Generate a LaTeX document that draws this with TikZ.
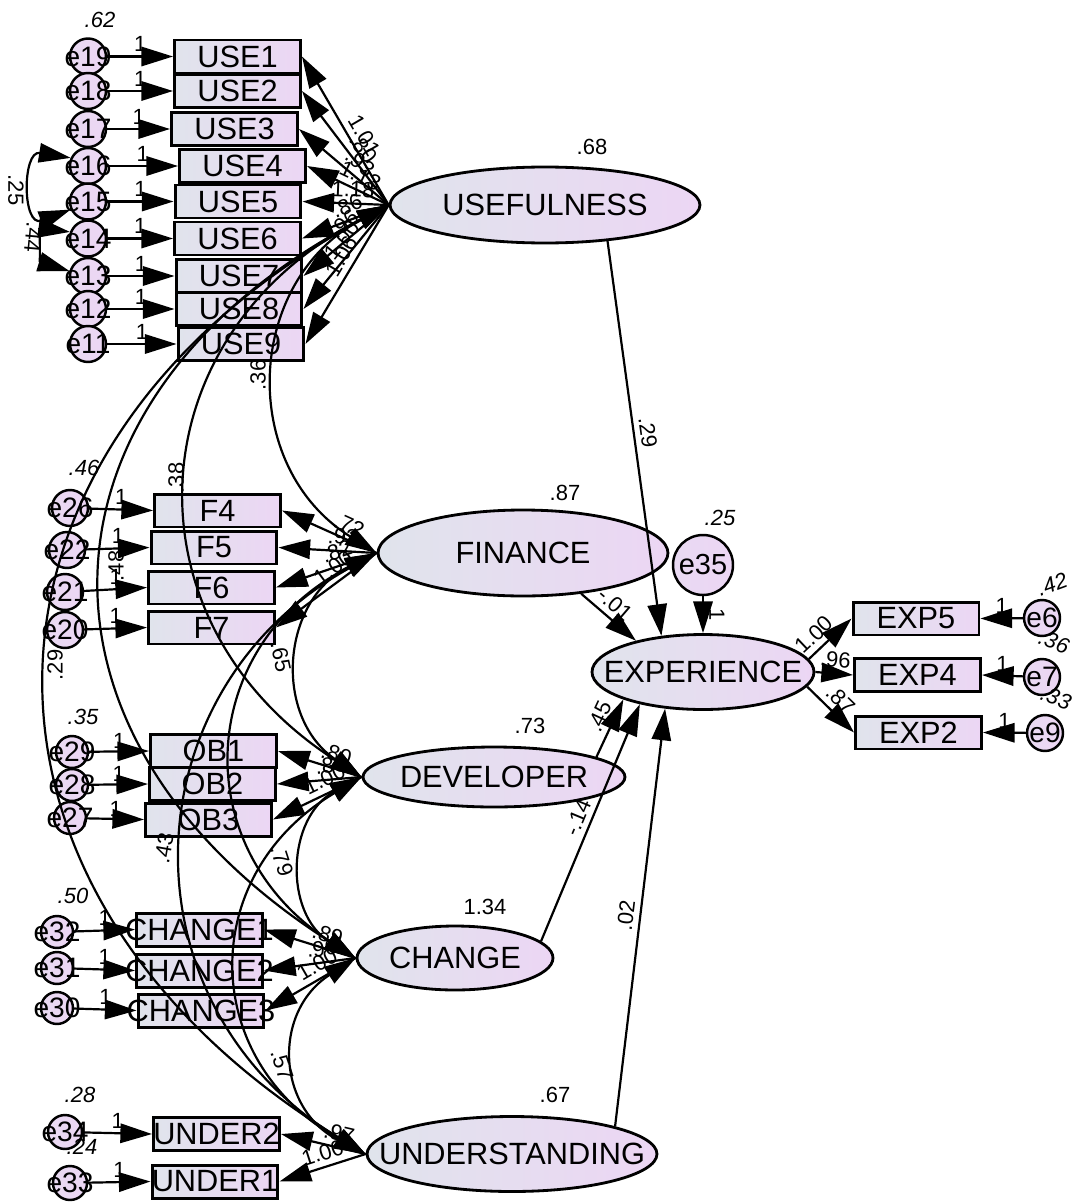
\documentclass[tikz,border=0pt]{standalone}
\usepackage{fontspec}
\setmainfont{Liberation Sans}
\usetikzlibrary{shapes.geometric,arrows.meta}
\definecolor{gL}{RGB}{224,228,236}
\definecolor{gR}{RGB}{236,214,244}
\newcommand{\zw}[1]{\makebox[0pt]{#1}}
\begin{document}
\begin{tikzpicture}[x=0.02cm,y=-0.02cm,
  big/.style={font=\fontsize{17.5}{19}\selectfont},
  num/.style={font=\fontsize{12.5}{14}\selectfont,inner sep=1pt},
  inum/.style={font=\fontsize{12.5}{14}\selectfont\itshape,inner sep=1pt},
  obs/.style={draw,line width=1.7pt,rectangle,minimum width=2.52cm,minimum height=0.66cm,inner sep=0pt,left color=gL,right color=gR,big},
  lat/.style={draw,line width=1.6pt,ellipse,inner sep=0pt,left color=gL,right color=gR,big},
  err/.style={draw,line width=1.4pt,circle,minimum size=0.72cm,inner sep=0pt,left color=gR!75!gL,right color=gR,font=\fontsize{16}{18}\selectfont},
  arr/.style={line width=1.25pt,-{Triangle[length=18pt,width=11pt]}},
  cov/.style={line width=1.25pt,{Triangle[length=18pt,width=11pt]}-{Triangle[length=18pt,width=11pt]}},
  lab/.style={num,sloped,above=2pt}
]
\useasboundingbox (0,0) rectangle (1073,1203);

% latent variables
\node[lat,minimum width=6.2cm,minimum height=1.52cm] (USEF) at (545,205) {\zw{USEFULNESS}};
\node[lat,minimum width=5.8cm,minimum height=1.72cm] (FIN) at (523,553) {\zw{FINANCE}};
\node[lat,minimum width=5.24cm,minimum height=1.2cm] (DEV) at (494,777) {\zw{DEVELOPER}};
\node[lat,minimum width=3.92cm,minimum height=1.28cm] (CHG) at (455,958) {\zw{CHANGE}};
\node[lat,minimum width=5.8cm,minimum height=1.5cm] (UND) at (512,1154) {\zw{UNDERSTANDING}};
\node[lat,minimum width=4.44cm,minimum height=1.5cm] (EXPR) at (703,672) {\zw{EXPERIENCE}};
\node[err,minimum size=1.2cm,font=\fontsize{16.5}{18}\selectfont] (e35) at (703,565) {\zw{e35}};

% USE indicators
\foreach \i/\yy/\xx/\ee in {1/56.5/237.5/19, 2/91/237.5/18, 3/129/234.5/17, 4/166/242.5/16, 5/201.5/238/15, 6/238.5/237.5/14, 7/276/239/13, 8/309/239/12, 9/344/241/11}{
  \node[obs] (USE\i) at (\xx,\yy) {\zw{USE\i}};
  \node[err] (e\ee) at (88,\yy) {\zw{e\ee}};
}
% F indicators
\foreach \n/\xx/\yy/\ee/\ex/\ey in {4/217.5/510.5/26/70/508, 5/214/547.5/22/67/550, 6/211.5/587.5/21/65/592, 7/211.5/627.5/20/65/630}{
  \node[obs] (F\n) at (\xx,\yy) {\zw{F\n}};
  \node[err] (e\ee) at (\ex,\ey) {\zw{e\ee}};
}
% OB indicators
\foreach \n/\xx/\yy/\ee/\ex/\ey in {1/213.5/751/29/72/752, 2/212.5/784/28/72/785, 3/208.5/819.5/27/70/818}{
  \node[obs] (OB\n) at (\xx,\yy) {\zw{OB\n}};
  \node[err,minimum size=0.64cm] (e\ee) at (\ex,\ey) {\zw{e\ee}};
}
% CHANGE indicators
\foreach \n/\xx/\yy/\ee/\ex/\ey in {1/199.5/929.5/32/57/932, 2/199.5/970.5/31/57/968, 3/201/1010.5/30/57/1008}{
  \node[obs] (CHANGE\n) at (\xx,\yy) {\zw{CHANGE\n}};
  \node[err,minimum size=0.64cm] (e\ee) at (\ex,\ey) {\zw{e\ee}};
}
% UNDER indicators
\node[obs] (UNDER2) at (216.5,1134) {\zw{UNDER2}};
\node[obs] (UNDER1) at (215,1181.5) {\zw{UNDER1}};
\node[err,minimum size=0.68cm] (e34) at (65,1132) {\zw{e34}};
\node[err,minimum size=0.68cm] (e33) at (70,1183) {\zw{e33}};
% EXP indicators
\node[obs] (EXP5) at (916,618.5) {\zw{EXP5}};
\node[obs] (EXP4) at (917.5,675) {\zw{EXP4}};
\node[obs] (EXP2) at (918.5,732.5) {\zw{EXP2}};
\node[err] (e6) at (1042,618) {\zw{e6}};
\node[err] (e7) at (1042,677) {\zw{e7}};
\node[err] (e9) at (1045,733) {\zw{e9}};

% error paths
\foreach \i/\ee in {1/19,2/18,3/17,4/16,5/15,6/14,7/13,8/12,9/11}{
  \draw[arr] (e\ee) -- (USE\i.west) node[num,midway,above=1pt]{1};
}
\foreach \n/\ee in {4/26,5/22,6/21,7/20}{
  \draw[arr] (e\ee) -- (F\n.west) node[num,midway,above=1pt]{1};
}
\foreach \n/\ee in {1/29,2/28,3/27}{
  \draw[arr] (e\ee) -- (OB\n.west) node[num,midway,above=0pt]{1};
}
\foreach \n/\ee in {1/32,2/31,3/30}{
  \draw[arr] (e\ee) -- (CHANGE\n.west) node[num,midway,above=1pt]{1};
}
\draw[arr] (e34) -- (UNDER2.west) node[num,midway,above=1pt]{1};
\draw[arr] (e33) -- (UNDER1.west) node[num,midway,above=1pt]{1};
\draw[arr] (e6) -- (EXP5.east) node[num,midway,above=1pt]{1};
\draw[arr] (e7) -- (EXP4.east) node[num,midway,above=1pt]{1};
\draw[arr] (e9) -- (EXP2.east) node[num,midway,above=1pt]{1};

% loadings
\foreach \i/\v in {1/1.01,2/.80,3/.93,4/1.13,5/1.18,6/.86,7/.96,8/1.00,9/1.06}{
  \draw[arr] (USEF.west) -- (USE\i.east) node[lab,pos=0.42]{\v};
}
\foreach \n/\v in {4/.72,5/.93,6/.82,7/1.00}{
  \draw[arr] (FIN.west) -- (F\n.east) node[lab,pos=0.35]{\v};
}
\foreach \n/\v in {1/.80,2/.86,3/1.00}{
  \draw[arr] (DEV.west) -- (OB\n.east) node[lab,pos=0.35]{\v};
}
\foreach \n/\v in {1/.89,2/.96,3/1.00}{
  \draw[arr] (CHG.west) -- (CHANGE\n.east) node[lab,pos=0.35]{\v};
}
\draw[arr] (UND.west) -- (UNDER2.east) node[lab,pos=0.35]{.97};
\draw[arr] (UND.west) -- (UNDER1.east) node[lab,pos=0.45]{1.00};
\draw[arr] (EXPR.7) -- (EXP5.west) node[lab,pos=0.35]{1.00};
\draw[arr] (EXPR.east) -- (EXP4.west) node[lab,pos=0.5]{.96};
\draw[arr] (EXPR.-8) -- (EXP2.west) node[lab,pos=0.5]{.87};

% structural paths
\draw[arr] (USEF.-30) -- (EXPR.139) node[lab,pos=0.49]{.29};
\draw[arr] (FIN.-35) -- (EXPR.155) node[lab,pos=0.45]{-.01};
\draw[arr] (DEV.11) -- (EXPR.199) node[lab,pos=0.6]{.45};
\draw[arr] (CHG.11) -- (EXPR.207) node[lab,pos=0.5]{-.14};
\draw[arr] (UND.15) -- (EXPR.224) node[lab,pos=0.5]{.02};
\draw[arr] (e35) -- (EXPR.north) node[lab,pos=0.5]{1};

% covariances among latent variables
\draw[cov] (USEF.west) to[bend right=60,looseness=1.2] (FIN.west);
\draw[cov] (USEF.west) to[bend right=60,looseness=1.28] (DEV.west);
\draw[cov] (USEF.west) to[bend right=60,looseness=1.4] (CHG.west);
\draw[cov] (USEF.west) to[bend right=60,looseness=1.36] (UND.west);
\draw[cov] (FIN.west) to[bend right=60,looseness=1.22] (DEV.west);
\draw[cov] (FIN.west) to[bend right=60,looseness=1.28] (CHG.west);
\draw[cov] (FIN.west) to[bend right=60,looseness=1.22] (UND.west);
\draw[cov] (DEV.west) to[bend right=60,looseness=1.2] (CHG.west);
\draw[cov] (DEV.west) to[bend right=60,looseness=1.3] (UND.west);
\draw[cov] (CHG.west) to[bend right=60,looseness=1.3] (UND.west);

% error covariances
\draw[cov] (e16.155) .. controls (22,150) and (22,228) .. (e15.205);
\draw[cov] (e14.160) .. controls (40,228) and (40,262) .. (e13.165);

% covariance labels
\node[num,rotate=90] (c36) at (258,375) {.36};
\node[num,rotate=90] (c38) at (176,478) {.38};
\node[num,rotate=90] (c48) at (116,566) {.48};
\node[num,rotate=90] (c29) at (55,665) {.29};
\node[num,rotate=-78] (c65) at (281,657) {.65};
\node[num,rotate=80] (c43) at (164,848) {.43};
\node[num,rotate=-72] (c79) at (282,861) {.79};
\node[num,rotate=-72] (c57) at (282,1065) {.57};
\node[num,rotate=-90] (c25) at (16,190) {.25};
\node[num,rotate=-95] (c44) at (33,237) {.44};

% variances
\node[num] (v68) at (592,147) {.68};
\node[num] (v87) at (565,493) {.87};
\node[num] (v73) at (530,726) {.73};
\node[num] (v134) at (485,907) {1.34};
\node[num] (v67) at (555,1095) {.67};
\node[inum] (v25) at (720,518) {.25};
\node[inum] (v62) at (100,20) {.62};
\node[inum] (v46) at (84,468) {.46};
\node[inum] (v35) at (83,717) {.35};
\node[inum] (v50) at (73,896) {.50};
\node[inum] (v28) at (80,1095) {.28};
\node[inum] (v24) at (82,1147) {.24};
\node[inum,rotate=20] (v42) at (1052,584) {.42};
\node[inum,rotate=-20] (v36) at (1054,642) {.36};
\node[inum,rotate=-20] (v33) at (1056,698) {.33};
\end{tikzpicture}
\end{document}
